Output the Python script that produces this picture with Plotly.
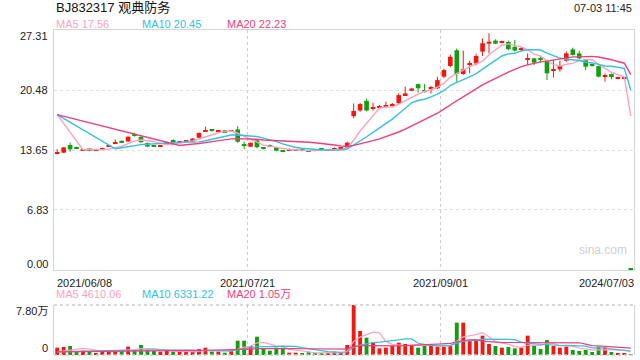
import plotly.graph_objects as go

# ---------------- data ----------------
tick_dates = ["2021/06/08", "2021/07/21", "2021/09/01", "2024/07/03"]
tick_index = [0, 30, 60, 89]

price_ticks = [0.00, 6.83, 13.65, 20.48, 27.31]
vol_ticks = [0, 78000]
vol_tick_text = ["0", "7.80万"]

open_ = [13.20, 13.35, 14.22, 13.90, 13.65, 13.84, 13.58, 13.68, 14.03, 14.35,
         14.70, 14.62, 15.43, 15.15, 14.45, 14.15, 14.03, 14.42, 14.72, 14.55,
         14.60, 14.62, 15.05, 15.80, 15.92, 15.75, 15.90, 15.75, 16.00, 14.25,
         14.03, 14.75, 13.90, 14.10, 13.95, 13.50, 13.60, 13.62, 13.70, 13.60,
         13.60, 13.75, 13.62, 13.72, 13.78, 13.95, 17.50, 18.15, 19.25, 18.35,
         18.50, 18.63, 18.75, 18.98, 19.90, 20.40, 21.15, 20.42, 20.70, 20.67,
         22.00, 23.21, 25.00, 22.30, 23.35, 23.50, 24.85, 25.75, 26.10, 25.90,
         25.95, 25.40, 25.05, 23.95, 24.08, 24.00, 23.82, 22.75, 22.83, 23.82,
         25.10, 24.65, 23.97, 23.38, 23.20, 22.05, 22.30, 21.78, 21.80, 0.05]
high = [13.75, 13.99, 14.48, 14.03, 13.75, 13.88, 13.72, 13.92, 14.25, 14.86,
        14.75, 15.20, 15.62, 15.20, 14.50, 14.22, 14.22, 14.60, 14.86, 14.71,
        14.79, 14.98, 15.65, 16.31, 16.00, 15.93, 15.93, 15.93, 16.38, 14.60,
        14.50, 14.86, 13.95, 14.30, 14.00, 13.55, 13.84, 13.75, 13.84, 13.65,
        13.65, 13.84, 13.73, 13.95, 14.03, 14.60, 18.96, 19.00, 19.50, 19.04,
        18.80, 19.15, 19.00, 20.10, 20.86, 20.70, 21.20, 21.16, 20.93, 21.99,
        22.90, 24.50, 25.20, 24.96, 23.82, 24.60, 26.36, 26.93, 26.25, 26.10,
        26.10, 26.17, 25.41, 24.65, 24.15, 24.27, 23.90, 23.90, 23.82, 24.85,
        25.30, 24.96, 24.00, 23.50, 23.25, 22.38, 22.35, 21.99, 21.99, 0.05]
low = [13.18, 13.30, 13.46, 13.78, 13.62, 13.50, 13.56, 13.66, 14.00, 14.33,
       14.45, 14.60, 15.17, 14.45, 14.00, 14.03, 14.00, 14.40, 14.48, 14.50,
       14.50, 14.60, 15.00, 15.78, 15.74, 15.74, 15.65, 15.74, 14.48, 13.73,
       14.00, 13.84, 13.73, 13.95, 13.50, 13.40, 13.60, 13.60, 13.50, 13.45,
       13.50, 13.58, 13.54, 13.70, 13.75, 13.84, 17.26, 18.00, 18.05, 18.13,
       18.45, 18.60, 18.70, 18.90, 19.85, 20.35, 20.18, 20.18, 20.10, 20.60,
       21.85, 23.06, 21.43, 22.20, 22.38, 23.30, 24.35, 24.65, 25.70, 25.80,
       25.00, 24.84, 24.84, 23.33, 23.33, 23.59, 21.62, 21.92, 22.57, 23.70,
       24.40, 23.97, 22.76, 23.14, 21.92, 21.43, 21.70, 21.70, 21.70, 0.00]
close = [13.26, 13.95, 13.73, 13.80, 13.70, 13.55, 13.68, 13.73, 14.10, 14.42,
         14.50, 15.17, 15.30, 14.55, 14.05, 14.08, 14.08, 14.55, 14.62, 14.65,
         14.70, 14.95, 15.60, 15.86, 15.85, 15.85, 15.68, 15.82, 14.60, 14.18,
         14.48, 13.98, 13.82, 14.02, 13.58, 13.45, 13.66, 13.68, 13.63, 13.50,
         13.55, 13.70, 13.67, 13.78, 13.82, 14.48, 18.10, 18.88, 18.15, 18.42,
         18.60, 18.70, 18.80, 19.90, 20.10, 20.65, 20.68, 20.35, 20.80, 21.60,
         22.75, 24.27, 22.30, 22.85, 23.50, 24.35, 25.80, 25.98, 25.75, 25.98,
         25.12, 24.97, 25.12, 24.02, 23.60, 23.95, 22.38, 22.85, 23.21, 24.65,
         24.47, 24.08, 23.14, 23.30, 22.00, 22.12, 21.95, 21.83, 21.85, 0.00]
volume = [11440, 12480, 14040, 6240, 6760, 6240, 3120, 6240, 7280, 7800,
          6240, 13000, 7280, 15600, 7280, 6240, 5200, 6240, 5200, 5200,
          5200, 5200, 9360, 11440, 5200, 5200, 3640, 7280, 22360, 22360,
          14040, 28600, 10400, 6760, 11440, 11440, 3640, 3640, 2600, 4160,
          2600, 2600, 2600, 5200, 3640, 15600, 78000, 37440, 27040, 19760,
          10400, 11440, 14040, 19240, 17160, 15600, 11440, 15600, 15600, 13000,
          13000, 14560, 50440, 50440, 21840, 21840, 30160, 17160, 14040, 11440,
          12480, 10400, 11440, 30160, 14040, 9360, 23400, 14040, 11440, 13000,
          7800, 6240, 7800, 4680, 13000, 11440, 4680, 3120, 3120, 800]

ma_periods = [5, 10, 20]
ma_seed_price = 17.68      # value shown at the first point of every price MA
ma_seed_volume = 5000      # value shown at the first point of every volume MA

price_legend = ["MA5 17.56", "MA10 20.45", "MA20 22.23"]
volume_legend = ["MA5 4610.06", "MA10 6331.22", "MA20 1.05万"]
title_text = "BJ832317 观典防务"
time_text = "07-03 11:45"

# ---------------- styles ----------------
UP = "#f2170f"
DOWN = "#119f11"
MA_COLORS = ["#f9a2c1", "#33c1e3", "#ee3f7c"]
FONT = "Liberation Sans, Arial, Noto Sans CJK SC, sans-serif"
W, H = 640, 360
L, R, T, B = 54, 6, 30, 5
PLOT_H = H - T - B


def py(px):
    return (H - B - px) / PLOT_H


n = len(close)
idx = list(range(n))


def moving_average(vals, p, seed):
    out = [None] * len(vals)
    out[0] = seed
    for i in range(p - 1, len(vals)):
        out[i] = sum(vals[i - p + 1:i + 1]) / p
    return out


up = [c >= o for o, c in zip(open_, close)]
colors = [UP if u else DOWN for u in up]

fig = go.Figure()

# wicks
for flag, col in [(True, UP), (False, DOWN)]:
    wx, wy = [], []
    for i in idx:
        if up[i] == flag:
            wx += [i, i, None]
            wy += [low[i], high[i], None]
    fig.add_trace(go.Scatter(x=wx, y=wy, mode="lines", line=dict(color=col, width=1),
                             hoverinfo="skip", showlegend=False, xaxis="x", yaxis="y"))

# bodies
body_base = [min(o, c) for o, c in zip(open_, close)]
body_h = [max(abs(c - o), 0.12) for o, c in zip(open_, close)]
fig.add_trace(go.Bar(x=idx, y=body_h, base=body_base, width=0.72,
                     marker=dict(color=colors, line=dict(width=0)),
                     showlegend=False, xaxis="x", yaxis="y", cliponaxis=False))

# price MAs
for p, col in zip(ma_periods, MA_COLORS):
    fig.add_trace(go.Scatter(x=idx, y=moving_average(close, p, ma_seed_price), mode="lines",
                             connectgaps=True, line=dict(color=col, width=1.4),
                             showlegend=False, xaxis="x", yaxis="y"))

# volume
fig.add_trace(go.Bar(x=idx, y=volume, width=0.6, marker=dict(color=colors, line=dict(width=0)),
                     showlegend=False, xaxis="x2", yaxis="y2"))
for p, col in zip(ma_periods, MA_COLORS):
    fig.add_trace(go.Scatter(x=idx, y=moving_average(volume, p, ma_seed_volume), mode="lines",
                             connectgaps=True, line=dict(color=col, width=1.2),
                             showlegend=False, xaxis="x2", yaxis="y2"))

grid_x = [t - 0.5 for t in tick_index[1:-1]]
xr = [-0.5, n - 0.5]
main_bottom = py(270)
vol_top = py(305)

fig.update_layout(
    width=W, height=H, margin=dict(l=L, r=R, t=T, b=B),
    paper_bgcolor="white", plot_bgcolor="white", barmode="overlay",
    font=dict(family=FONT, size=11, color="#222"),
    xaxis=dict(domain=[0, 1], range=xr, anchor="y", tickvals=grid_x, showticklabels=False,
               ticks="", showgrid=True, gridcolor="#cccccc", griddash="dot", gridwidth=1,
               zeroline=False, showline=True, mirror=True, linecolor="#d4d4d4", linewidth=1),
    yaxis=dict(domain=[main_bottom, 1], range=[price_ticks[0], price_ticks[-1]], anchor="x",
               tickvals=price_ticks[1:-1], showticklabels=False, ticks="",
               showgrid=True, gridcolor="#dddddd", griddash="dot", gridwidth=1,
               zeroline=False, showline=True, mirror=True, linecolor="#d4d4d4", linewidth=1),
    xaxis2=dict(domain=[0, 1], range=xr, anchor="y2", tickvals=grid_x, showticklabels=False,
                ticks="", showgrid=True, gridcolor="#cccccc", griddash="dot", zeroline=False,
                showline=False),
    yaxis2=dict(domain=[0, vol_top], range=[vol_ticks[0], vol_ticks[-1]], anchor="x2",
                showticklabels=False, ticks="", showgrid=False, zeroline=False,
                showline=True, mirror=True, linecolor="#d4d4d4", linewidth=1),
    showlegend=False,
)

# dotted top/bottom of the volume panel
for yy in [0, 1]:
    fig.add_shape(type="line", xref="x2 domain", yref="y2 domain", x0=0, x1=1, y0=yy, y1=yy,
                  line=dict(color="#cccccc", width=1.5, dash="dot"))

ann = []
ann.append(dict(text=title_text, xref="paper", yref="paper", x=0, y=py(8), xanchor="left",
                yanchor="middle", showarrow=False, font=dict(size=13, color="#111")))
ann.append(dict(text=time_text, xref="paper", yref="paper", x=1, y=py(8), xanchor="right",
                yanchor="middle", showarrow=False, font=dict(size=11, color="#222")))
for k, (txt, col) in enumerate(zip(price_legend, MA_COLORS)):
    ann.append(dict(text=txt, xref="paper", yref="paper", x=[0, 0.148, 0.295][k], y=py(24),
                    xanchor="left", yanchor="middle", showarrow=False, font=dict(size=11, color=col)))
for k, (txt, col) in enumerate(zip(volume_legend, MA_COLORS)):
    ann.append(dict(text=txt, xref="paper", yref="paper", x=[0, 0.148, 0.295][k], y=py(294),
                    xanchor="left", yanchor="middle", showarrow=False, font=dict(size=11, color=col)))
for k, v in enumerate(price_ticks):
    shift = 0
    if k == 0:
        shift = 6.5
    elif k == len(price_ticks) - 1:
        shift = -5.5
    ann.append(dict(text=f"{v:.2f}", xref="paper", yref="y", x=0, y=v, xanchor="right",
                    yanchor="middle", xshift=-4, yshift=shift, showarrow=False,
                    font=dict(size=11, color="#222")))
for v, txt, shift in zip(vol_ticks, vol_tick_text, [7.5, -6]):
    ann.append(dict(text=txt, xref="paper", yref="y2", x=0, y=v, xanchor="right",
                    yanchor="middle", xshift=-4, yshift=shift, showarrow=False,
                    font=dict(size=11, color="#222")))
for k, (d, ti) in enumerate(zip(tick_dates, tick_index)):
    if k == 0:
        xa, xv, xs = "left", ti - 0.5, 1
    elif k == len(tick_dates) - 1:
        xa, xv, xs = "right", ti + 0.5, 2
    else:
        xa, xv, xs = "center", ti - 0.5, 0
    ann.append(dict(text=d, xref="x", yref="paper", x=xv, y=py(282.5), xanchor=xa,
                    yanchor="middle", xshift=xs, showarrow=False, font=dict(size=11, color="#222")))
ann.append(dict(text="sina.com", xref="paper", yref="paper", x=(603 - L) / (W - L - R), y=py(250),
                xanchor="center", yanchor="middle", showarrow=False,
                font=dict(size=12, color="#d0d0d0")))
fig.update_layout(annotations=ann)

fig.write_html("out.html", config={"displayModeBar": False},
               post_script="document.body.style.margin='0';document.body.style.overflow='hidden';")
